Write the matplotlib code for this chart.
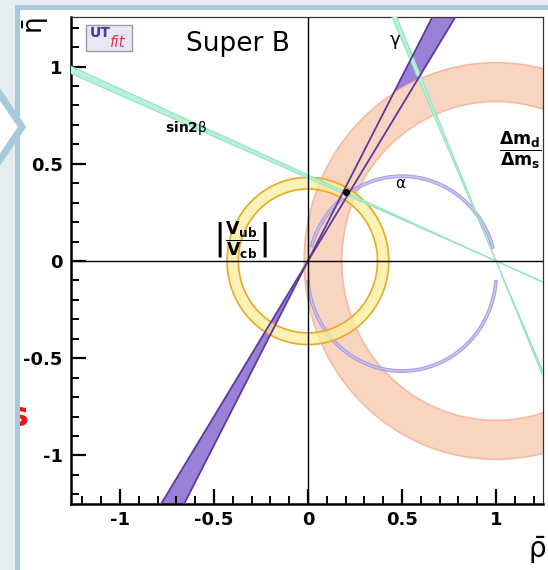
import matplotlib
matplotlib.use("Agg")
import matplotlib.pyplot as plt
import numpy as np
from matplotlib.patches import Polygon, Rectangle, FancyBboxPatch

plt.rcParams['mathtext.fontset'] = 'dejavusans'

# axis ticks
xticks = [-1, -0.5, 0, 0.5, 1]
xlabels = ["-1", "-0.5", "0", "0.5", "1"]
yticks = [-1, -0.5, 0, 0.5, 1]
ylabels = ["-1", "-0.5", "0", "0.5", "1"]

# constraints
dm_center = (1.0, 0.0)          # dm_d / dm_s ring
dm_radii = (0.82, 1.02)
vub_center = (0.0, 0.0)         # |Vub/Vcb| ring
vub_radii = (0.37, 0.43)
gamma_apex = (0.0, 0.0)         # gamma wedge, edge angles in degrees
gamma_deg = (58.0, 62.2)
sin2b_apex = (1.0, 0.0)         # sin2beta, two solutions
sin2b_deg = [(156.1, 156.9), (112.8, 113.8)]
alpha_center = (0.5, -0.065)    # alpha arcs
alpha_radii = (0.494, 0.508)
alpha_arcs = [(15, 164), (184, 356)]
best_point = (0.2, 0.355)


def ring(ax, c, r, face, edge, alpha, z):
    t = np.linspace(0, 2 * np.pi, 400)
    outer = np.c_[c[0] + r[1] * np.cos(t), c[1] + r[1] * np.sin(t)]
    inner = np.c_[c[0] + r[0] * np.cos(t[::-1]), c[1] + r[0] * np.sin(t[::-1])]
    ax.add_patch(Polygon(np.vstack([outer, inner]), closed=True, facecolor=face,
                         edgecolor='none', alpha=alpha, zorder=z))
    for rr in r:
        ax.plot(c[0] + rr * np.cos(t), c[1] + rr * np.sin(t), color=edge, lw=1.2, zorder=z)


def wedge(ax, apex, angs, face, edge, lw, zf, ze, L=4.0):
    a1, a2 = np.radians(angs)
    for s in (1, -1):
        p1 = (apex[0] + s * L * np.cos(a1), apex[1] + s * L * np.sin(a1))
        p2 = (apex[0] + s * L * np.cos(a2), apex[1] + s * L * np.sin(a2))
        ax.add_patch(Polygon([apex, p1, p2], closed=True, facecolor=face,
                             edgecolor='none', zorder=zf))
        for p in (p1, p2):
            ax.plot([apex[0], p[0]], [apex[1], p[1]], color=edge, lw=lw, zorder=ze)


fig = plt.figure(figsize=(5.48, 5.70), dpi=100)
ax = fig.add_axes([71 / 548, 1 - 504 / 570, 472 / 548, 487 / 570])

# gamma fill below the rings, its edges on top
wedge(ax, gamma_apex, gamma_deg, '#9b80d8', '#5b3a9c', 1.3, 1, 6)

ring(ax, dm_center, dm_radii, '#f9d5c1', '#f3bba2', 1.0, 2)

# alpha arcs, seen faintly through the pink ring
for a0, a1 in alpha_arcs:
    t = np.radians(np.linspace(a0, a1, 200))
    outer = np.c_[alpha_center[0] + alpha_radii[1] * np.cos(t), alpha_center[1] + alpha_radii[1] * np.sin(t)]
    inner = np.c_[alpha_center[0] + alpha_radii[0] * np.cos(t[::-1]), alpha_center[1] + alpha_radii[0] * np.sin(t[::-1])]
    ax.add_patch(Polygon(np.vstack([outer, inner]), closed=True, facecolor='#c3bdf0',
                         edgecolor='#9c94e2', lw=0.8, alpha=0.85, zorder=2.5))

ring(ax, vub_center, vub_radii, '#fbee9c', '#e9a823', 0.75, 3)

for angs in sin2b_deg:
    wedge(ax, sin2b_apex, angs, '#b7f2d6', '#92e3bf', 0.8, 4, 4.2)

ax.axhline(0, color='black', lw=1.0, zorder=7)
ax.axvline(0, color='black', lw=1.0, zorder=7)
ax.plot(*best_point, 'o', color='black', ms=4, zorder=8)

ax.set_xlim(-1.26, 1.25)
ax.set_ylim(-1.25, 1.255)
ax.set_xticks(xticks, xlabels)
ax.set_yticks(yticks, ylabels)
ax.set_xticks(np.arange(-1.2, 1.21, 0.1), minor=True)
ax.set_yticks(np.arange(-1.2, 1.21, 0.1), minor=True)
ax.tick_params(which='major', direction='in', length=11, width=1.6, labelsize=13, pad=5)
ax.tick_params(which='minor', direction='in', length=5.5, width=1.4)
ax.tick_params(axis='y', which='major', pad=6)
for lbl in ax.get_xticklabels() + ax.get_yticklabels():
    lbl.set_fontweight('bold')
for side in ('left', 'bottom'):
    ax.spines[side].set_linewidth(1.8)
for side in ('top', 'right'):
    ax.spines[side].set_linewidth(0.9)
    ax.spines[side].set_color('#333333')

# labels
ax.text(-0.37, 1.115, "Super B", fontsize=19, ha='center', va='center', zorder=9)
ax.add_patch(FancyBboxPatch((-1.18, 1.082), 0.245, 0.133, boxstyle='square,pad=0',
                            facecolor='#ece6f4', edgecolor='#9a9aa8', lw=1.0, zorder=9))
ax.text(-1.16, 1.175, "UT", fontsize=10, fontweight='bold', color='#3b3f9e',
        ha='left', va='center', zorder=10)
ax.text(-1.055, 1.125, "fit", fontsize=11, style='italic', color='#d43a48',
        ha='left', va='center', zorder=10)
ax.text(0.465, 1.125, r"$\mathrm{\gamma}$", fontsize=13, ha='center', va='center', zorder=9)
ax.text(-0.76, 0.684, r"sin2$\mathrm{\beta}$", fontsize=10, fontweight='bold',
        ha='left', va='center', zorder=9)
ax.text(0.493, 0.40, r"$\mathrm{\alpha}$", fontsize=11, ha='center', va='center', zorder=9)
ax.text(1.13, 0.57, r"$\dfrac{\mathbf{\Delta m_d}}{\mathbf{\Delta m_s}}$", fontsize=12.5,
        ha='center', va='center', zorder=9)
ax.text(-0.36, 0.105, r"$\left|\dfrac{\mathbf{V_{ub}}}{\mathbf{V_{cb}}}\right|$", fontsize=12.5,
        ha='center', va='center', zorder=9)

fig.text(36 / 548, 1 - 26 / 570, r"$\bar{\mathrm{\eta}}$", fontsize=19, rotation=90,
         ha='center', va='center')
fig.text(537 / 548, 1 - 550 / 570, r"$\bar{\mathrm{\rho}}$", fontsize=20,
         ha='center', va='center')

# slide frame around the figure
W, H = 548, 570
fig.text(28 / W, 1 - 416 / H, "s", fontsize=24, fontweight='bold', color='#e8121a',
         ha='right', va='center', zorder=4)
fig.patches.append(Rectangle((0, 0), 15 / W, 1, transform=fig.transFigure,
                             facecolor='#e6edf1', edgecolor='none', zorder=5))
fig.patches.append(Rectangle((0, 1 - 5 / H), 1, 5 / H, transform=fig.transFigure,
                             facecolor='#e6edf1', edgecolor='none', zorder=5))
fig.patches.append(Rectangle((15 / W, 0), 5 / W, 1 - 5 / H, transform=fig.transFigure,
                             facecolor='#a8c8dc', edgecolor='none', zorder=6))
fig.patches.append(Rectangle((15 / W, 1 - 10 / H), 1, 5 / H, transform=fig.transFigure,
                             facecolor='#a8c8dc', edgecolor='none', zorder=6))
arrow = [(-30 / W, 1 - 50 / H), (22 / W, 1 - 127 / H), (-30 / W, 1 - 204 / H)]
fig.patches.append(Polygon(arrow, closed=True, transform=fig.transFigure,
                           facecolor='white', edgecolor='#a8c8dc', lw=5, zorder=7))

fig.savefig("out.png", dpi=100)
